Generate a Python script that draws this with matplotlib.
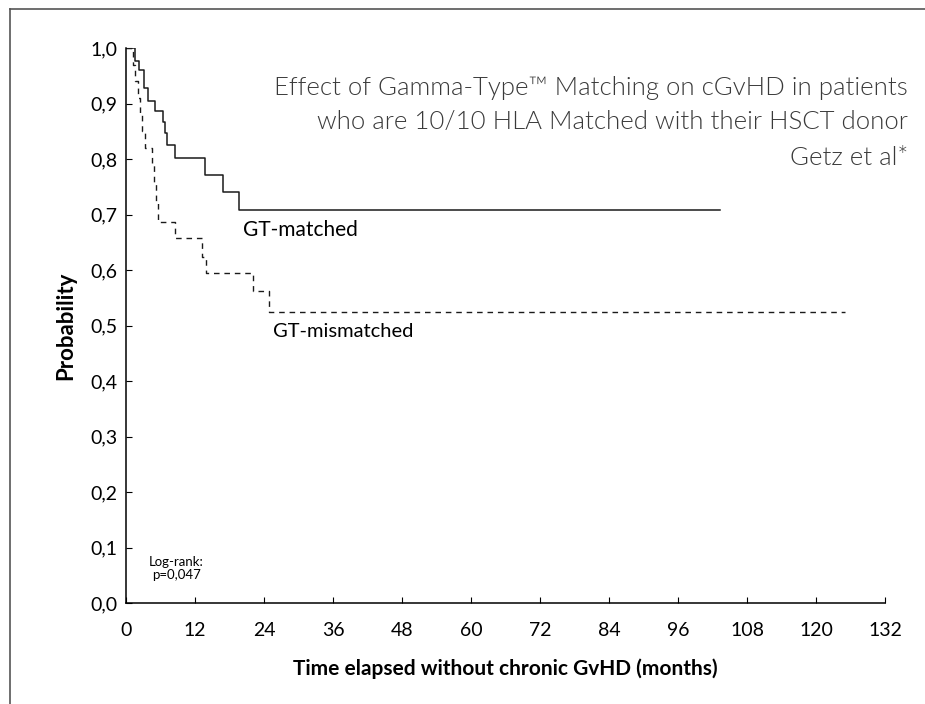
import matplotlib.pyplot as plt
from matplotlib.lines import Line2D

# Kaplan-Meier step data (months, survival probability)
matched_t = [0, 1.6, 2.2, 3.1, 3.9, 5.0, 6.5, 6.8, 7.2, 8.6, 13.7, 16.8, 19.7, 103.3]
matched_p = [1.0, 0.976, 0.961, 0.928, 0.904, 0.887, 0.866, 0.846, 0.825, 0.802, 0.772, 0.741, 0.708, 0.708]

mismatched_t = [0, 1.2, 1.6, 2.0, 2.4, 2.8, 3.3, 4.6, 4.9, 5.2, 5.6, 8.5, 13.3, 13.9, 22.1, 24.8, 125.0]
mismatched_p = [1.0, 0.97, 0.94, 0.91, 0.88, 0.85, 0.819, 0.79, 0.755, 0.72, 0.687, 0.657, 0.624,
                0.594, 0.563, 0.525, 0.525]

x_ticks = list(range(0, 133, 12))
y_ticks = [i / 10 for i in range(11)]
y_tick_labels = [f"{v:.1f}".replace(".", ",") for v in y_ticks]

title_lines = ["Effect of Gamma-Type\u2122 Matching on cGvHD in patients",
               "who are 10/10 HLA Matched with their HSCT donor"]
source_text = "Getz et al*"

LABEL_FONT = ["Lato", "DejaVu Sans"]
TITLE_FONT = ["Lato", "DejaVu Sans"]

fig = plt.figure(figsize=(9.25, 7.04), dpi=100)
ax = fig.add_axes([126 / 925, 1 - 603 / 704, (885 - 126) / 925, (603 - 48) / 704])

ax.step(matched_t, matched_p, where="post", color="#1a1a1a", lw=1.1)
ax.step(mismatched_t, mismatched_p, where="post", color="#1a1a1a", lw=1.0,
        linestyle=(0, (4, 3.5)))

ax.set_xlim(0, 132)
ax.set_ylim(0, 1.0)
ax.set_xticks(x_ticks)
ax.set_yticks(y_ticks)
ax.set_yticklabels(y_tick_labels)
ax.spines["top"].set_visible(False)
ax.spines["right"].set_visible(False)
for s in ("left", "bottom"):
    ax.spines[s].set_linewidth(1.1)
ax.tick_params(direction="in", length=4, width=0.8, labelsize=14, pad=6)
ax.tick_params(axis="x", pad=14)
for lab in ax.get_xticklabels() + ax.get_yticklabels():
    lab.set_fontfamily(LABEL_FONT)

ax.set_xlabel("Time elapsed without chronic GvHD (months)", fontsize=15, fontweight="bold",
              family=LABEL_FONT, labelpad=14)
ax.set_ylabel("Probability", fontsize=16, fontweight="bold", family=LABEL_FONT, labelpad=10)

# curve labels
ax.text(20.3, 0.69, "GT-matched", fontsize=15, family=LABEL_FONT, va="top", ha="left")
ax.text(25.5, 0.505, "GT-mismatched", fontsize=14.5, family=LABEL_FONT, va="top", ha="left")
ax.text(8.7, 0.062, "Log-rank:\np=0,047", fontsize=9.5, family=LABEL_FONT, ha="center",
        va="center", linespacing=1.15)

# title block
for txt, ypx in zip(title_lines + [source_text], [88, 122, 158]):
    fig.text(908 / 925, 1 - ypx / 704, txt, ha="right", va="center", fontsize=18.5,
             fontweight=300, color="#3a3a3a", family=TITLE_FONT)

# frame around the figure (left and top edges visible)
fig.add_artist(Line2D([10 / 925, 10 / 925], [0, 1 - 9 / 704], transform=fig.transFigure,
                      color="#555555", lw=1.2))
fig.add_artist(Line2D([10 / 925, 1], [1 - 9 / 704, 1 - 9 / 704], transform=fig.transFigure,
                      color="#555555", lw=1.2))

fig.savefig("out.png", dpi=100)
